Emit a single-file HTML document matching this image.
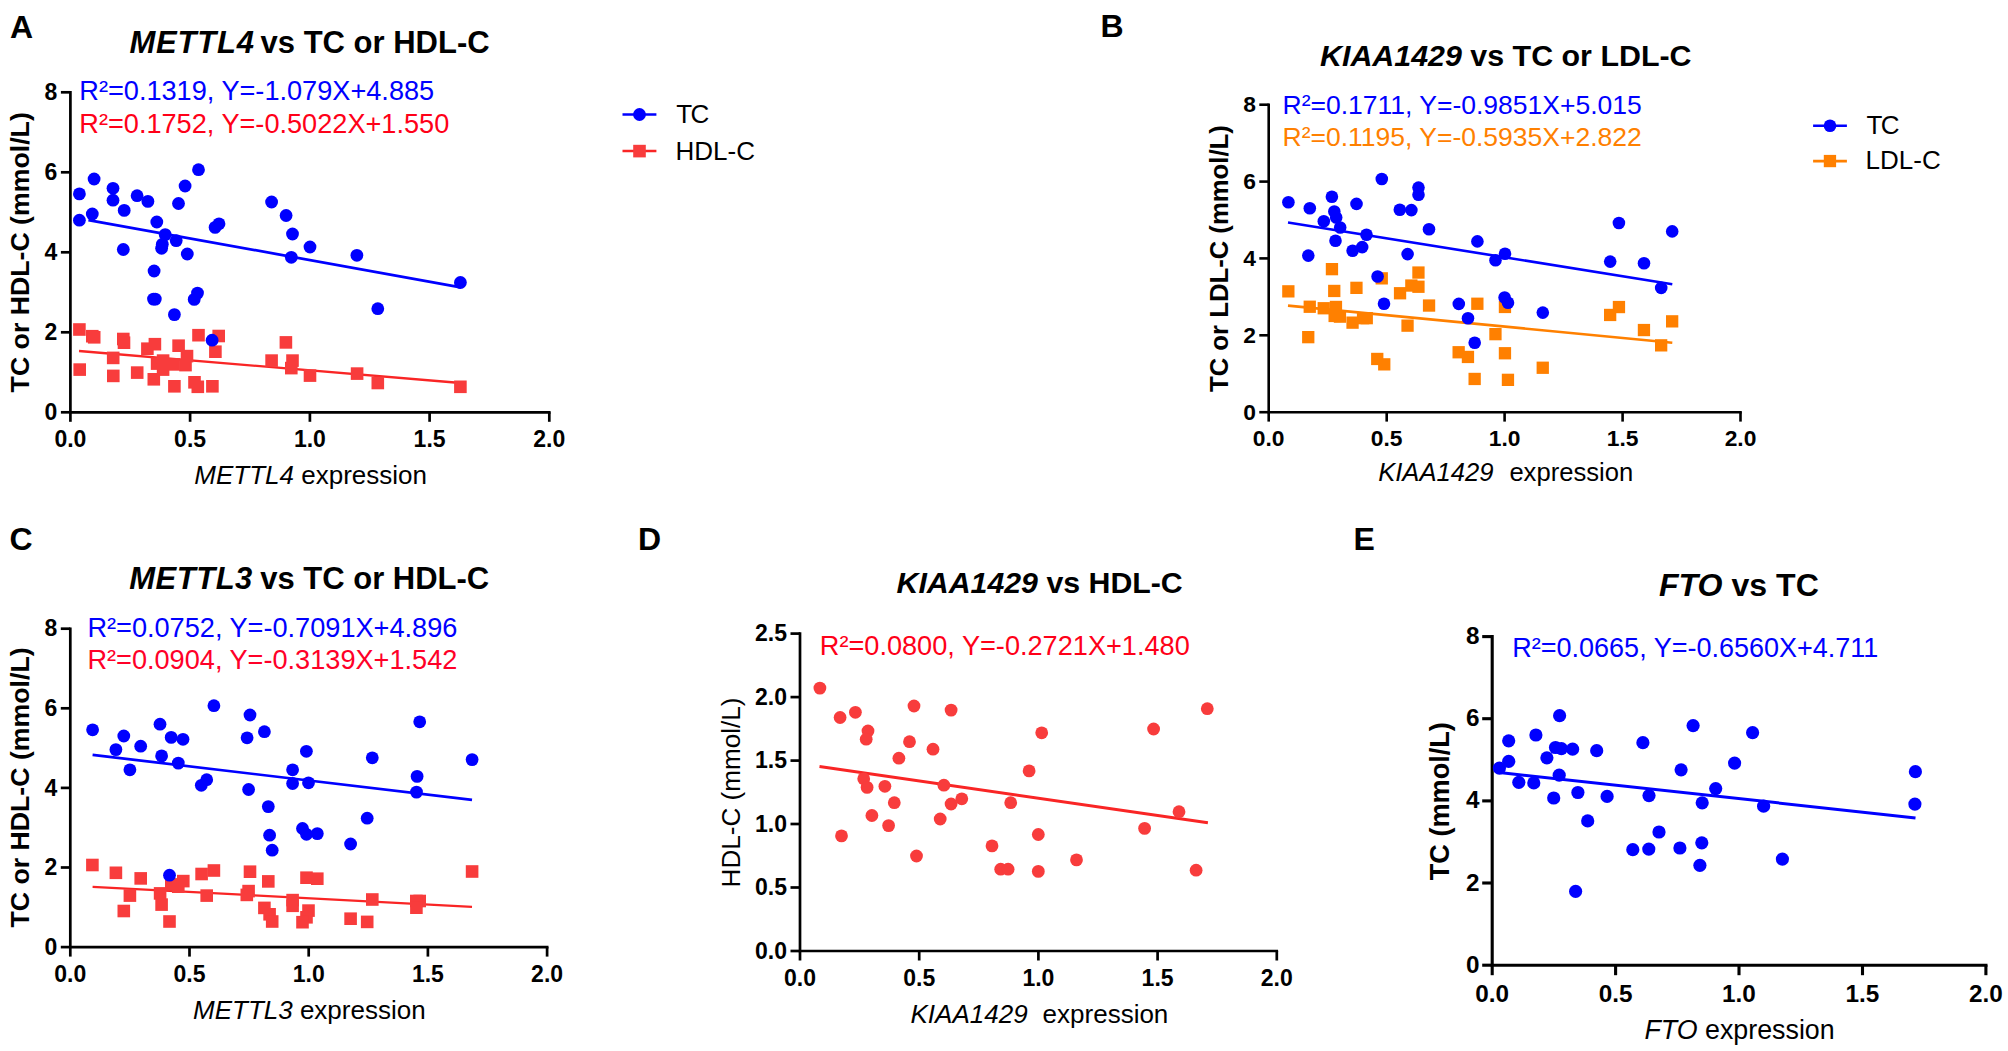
<!DOCTYPE html>
<html><head><meta charset="utf-8"><title>Figure</title>
<style>html,body{margin:0;padding:0;background:#fff}svg{display:block}text{font-family:"Liberation Sans",Arial,sans-serif}</style>
</head><body>
<svg width="2008" height="1051" viewBox="0 0 2008 1051">
<rect width="2008" height="1051" fill="#fff"/>
<text x="10.0" y="37.5" font-size="32" fill="#000" font-weight="bold" font-style="normal" text-anchor="start" >A</text>
<text x="129.5" y="52.8" font-size="31" font-weight="bold"><tspan font-style="italic" letter-spacing="0.8">METTL4</tspan><tspan dx="-2.9"> vs TC or HDL-C</tspan></text>
<path d="M70.4,91.0 V412.3 H550.6" fill="none" stroke="#000" stroke-width="2.7" stroke-linejoin="miter"/>
<line x1="70.4" y1="412.3" x2="70.4" y2="421.8" stroke="#000" stroke-width="2.7" stroke-linecap="butt"/>
<text x="70.4" y="446.9" font-size="23" fill="#000" font-weight="bold" font-style="normal" text-anchor="middle" >0.0</text>
<line x1="190.1" y1="412.3" x2="190.1" y2="421.8" stroke="#000" stroke-width="2.7" stroke-linecap="butt"/>
<text x="190.1" y="446.9" font-size="23" fill="#000" font-weight="bold" font-style="normal" text-anchor="middle" >0.5</text>
<line x1="309.9" y1="412.3" x2="309.9" y2="421.8" stroke="#000" stroke-width="2.7" stroke-linecap="butt"/>
<text x="309.9" y="446.9" font-size="23" fill="#000" font-weight="bold" font-style="normal" text-anchor="middle" >1.0</text>
<line x1="429.6" y1="412.3" x2="429.6" y2="421.8" stroke="#000" stroke-width="2.7" stroke-linecap="butt"/>
<text x="429.6" y="446.9" font-size="23" fill="#000" font-weight="bold" font-style="normal" text-anchor="middle" >1.5</text>
<line x1="549.3" y1="412.3" x2="549.3" y2="421.8" stroke="#000" stroke-width="2.7" stroke-linecap="butt"/>
<text x="549.3" y="446.9" font-size="23" fill="#000" font-weight="bold" font-style="normal" text-anchor="middle" >2.0</text>
<line x1="60.9" y1="412.3" x2="70.4" y2="412.3" stroke="#000" stroke-width="2.7" stroke-linecap="butt"/>
<text x="57.4" y="420.0" font-size="23" fill="#000" font-weight="bold" font-style="normal" text-anchor="end" >0</text>
<line x1="60.9" y1="332.3" x2="70.4" y2="332.3" stroke="#000" stroke-width="2.7" stroke-linecap="butt"/>
<text x="57.4" y="340.0" font-size="23" fill="#000" font-weight="bold" font-style="normal" text-anchor="end" >2</text>
<line x1="60.9" y1="252.3" x2="70.4" y2="252.3" stroke="#000" stroke-width="2.7" stroke-linecap="butt"/>
<text x="57.4" y="260.0" font-size="23" fill="#000" font-weight="bold" font-style="normal" text-anchor="end" >4</text>
<line x1="60.9" y1="172.3" x2="70.4" y2="172.3" stroke="#000" stroke-width="2.7" stroke-linecap="butt"/>
<text x="57.4" y="180.0" font-size="23" fill="#000" font-weight="bold" font-style="normal" text-anchor="end" >6</text>
<line x1="60.9" y1="92.3" x2="70.4" y2="92.3" stroke="#000" stroke-width="2.7" stroke-linecap="butt"/>
<text x="57.4" y="100.0" font-size="23" fill="#000" font-weight="bold" font-style="normal" text-anchor="end" >8</text>
<text x="79.3" y="100.3" font-size="27.15" fill="#0000FF" font-weight="normal" font-style="normal" text-anchor="start" >R²=0.1319, Y=-1.079X+4.885</text>
<text x="79.3" y="133.0" font-size="27.15" fill="#FF0018" font-weight="normal" font-style="normal" text-anchor="start" >R²=0.1752, Y=-0.5022X+1.550</text>
<text transform="translate(29.3,252.3) rotate(-90)" font-size="26.7" font-weight="bold" text-anchor="middle">TC or HDL-C (mmol/L)</text>
<text x="194.3" y="483.5" font-size="26"><tspan font-style="italic">METTL4</tspan> expression</text>
<line x1="79.0" y1="351.0" x2="460.7" y2="383.0" stroke="#F92525" stroke-width="2.3" stroke-linecap="butt"/>
<g fill="#F83C3C"><rect x="73.1" y="323.2" width="12.6" height="12.6"/><rect x="86.0" y="329.9" width="12.6" height="12.6"/><rect x="87.9" y="331.0" width="12.6" height="12.6"/><rect x="117.0" y="332.7" width="12.6" height="12.6"/><rect x="117.7" y="336.4" width="12.6" height="12.6"/><rect x="73.4" y="363.3" width="12.6" height="12.6"/><rect x="106.9" y="351.6" width="12.6" height="12.6"/><rect x="107.0" y="369.6" width="12.6" height="12.6"/><rect x="130.9" y="366.3" width="12.6" height="12.6"/><rect x="141.1" y="342.4" width="12.6" height="12.6"/><rect x="148.6" y="337.9" width="12.6" height="12.6"/><rect x="147.5" y="373.0" width="12.6" height="12.6"/><rect x="172.3" y="339.4" width="12.6" height="12.6"/><rect x="180.7" y="349.8" width="12.6" height="12.6"/><rect x="150.8" y="357.3" width="12.6" height="12.6"/><rect x="156.8" y="354.3" width="12.6" height="12.6"/><rect x="156.8" y="363.3" width="12.6" height="12.6"/><rect x="167.3" y="358.1" width="12.6" height="12.6"/><rect x="179.2" y="358.8" width="12.6" height="12.6"/><rect x="168.1" y="380.0" width="12.6" height="12.6"/><rect x="188.2" y="376.0" width="12.6" height="12.6"/><rect x="191.5" y="380.5" width="12.6" height="12.6"/><rect x="206.1" y="380.0" width="12.6" height="12.6"/><rect x="192.2" y="328.9" width="12.6" height="12.6"/><rect x="212.4" y="329.7" width="12.6" height="12.6"/><rect x="209.1" y="345.4" width="12.6" height="12.6"/><rect x="265.3" y="354.3" width="12.6" height="12.6"/><rect x="279.6" y="336.1" width="12.6" height="12.6"/><rect x="286.2" y="354.3" width="12.6" height="12.6"/><rect x="285.0" y="361.8" width="12.6" height="12.6"/><rect x="303.7" y="369.3" width="12.6" height="12.6"/><rect x="350.8" y="367.3" width="12.6" height="12.6"/><rect x="371.5" y="376.7" width="12.6" height="12.6"/><rect x="454.1" y="380.5" width="12.6" height="12.6"/></g>
<g fill="#0000FF"><circle cx="79.4" cy="193.9" r="6.4"/><circle cx="94.1" cy="179.0" r="6.4"/><circle cx="113.0" cy="188.3" r="6.4"/><circle cx="113.0" cy="200.2" r="6.4"/><circle cx="79.4" cy="220.2" r="6.4"/><circle cx="92.3" cy="214.0" r="6.4"/><circle cx="124.2" cy="210.4" r="6.4"/><circle cx="137.1" cy="195.7" r="6.4"/><circle cx="147.9" cy="201.4" r="6.4"/><circle cx="156.8" cy="222.0" r="6.4"/><circle cx="178.5" cy="203.5" r="6.4"/><circle cx="185.1" cy="186.0" r="6.4"/><circle cx="198.5" cy="169.7" r="6.4"/><circle cx="165.2" cy="234.6" r="6.4"/><circle cx="162.3" cy="244.3" r="6.4"/><circle cx="161.6" cy="248.3" r="6.4"/><circle cx="176.2" cy="240.6" r="6.4"/><circle cx="123.3" cy="249.5" r="6.4"/><circle cx="187.3" cy="254.0" r="6.4"/><circle cx="154.1" cy="271.0" r="6.4"/><circle cx="215.1" cy="227.4" r="6.4"/><circle cx="219.0" cy="223.8" r="6.4"/><circle cx="271.6" cy="202.0" r="6.4"/><circle cx="286.1" cy="215.5" r="6.4"/><circle cx="292.5" cy="234.0" r="6.4"/><circle cx="310.0" cy="247.0" r="6.4"/><circle cx="291.3" cy="257.3" r="6.4"/><circle cx="356.9" cy="255.3" r="6.4"/><circle cx="153.5" cy="299.1" r="6.4"/><circle cx="155.3" cy="299.1" r="6.4"/><circle cx="197.5" cy="293.1" r="6.4"/><circle cx="194.2" cy="299.4" r="6.4"/><circle cx="174.4" cy="314.6" r="6.4"/><circle cx="212.1" cy="340.2" r="6.4"/><circle cx="460.4" cy="282.5" r="6.4"/><circle cx="377.8" cy="308.7" r="6.4"/></g>
<line x1="88.4" y1="220.1" x2="460.7" y2="287.3" stroke="#0000FF" stroke-width="2.7" stroke-linecap="butt"/>
<line x1="622.5" y1="114.5" x2="656.4" y2="114.5" stroke="#0000FF" stroke-width="2.7" stroke-linecap="butt"/>
<g fill="#0000FF"><circle cx="639.5" cy="114.5" r="6.4"/></g>
<text x="676.3" y="123.2" font-size="26" fill="#000" font-weight="normal" font-style="normal" text-anchor="start" >T<tspan dx="-1.6">C</tspan></text>
<line x1="622.5" y1="151.1" x2="656.4" y2="151.1" stroke="#F92525" stroke-width="2.5" stroke-linecap="butt"/>
<g fill="#F83C3C"><rect x="633.2" y="144.8" width="12.6" height="12.6"/></g>
<text x="675.5" y="160.0" font-size="26" fill="#000" font-weight="normal" font-style="normal" text-anchor="start" >HDL-C</text>
<text x="1100.5" y="37.3" font-size="32" fill="#000" font-weight="bold" font-style="normal" text-anchor="start" >B</text>
<text x="1320" y="66.1" font-size="30.4" font-weight="bold"><tspan font-style="italic">KIAA1429</tspan> vs TC or LDL-C</text>
<path d="M1268.7,103.4 V412.2 H1741.8" fill="none" stroke="#000" stroke-width="2.6" stroke-linejoin="miter"/>
<line x1="1268.7" y1="412.2" x2="1268.7" y2="421.6" stroke="#000" stroke-width="2.6" stroke-linecap="butt"/>
<text x="1268.7" y="446.2" font-size="22.8" fill="#000" font-weight="bold" font-style="normal" text-anchor="middle" >0.0</text>
<line x1="1386.7" y1="412.2" x2="1386.7" y2="421.6" stroke="#000" stroke-width="2.6" stroke-linecap="butt"/>
<text x="1386.7" y="446.2" font-size="22.8" fill="#000" font-weight="bold" font-style="normal" text-anchor="middle" >0.5</text>
<line x1="1504.6" y1="412.2" x2="1504.6" y2="421.6" stroke="#000" stroke-width="2.6" stroke-linecap="butt"/>
<text x="1504.6" y="446.2" font-size="22.8" fill="#000" font-weight="bold" font-style="normal" text-anchor="middle" >1.0</text>
<line x1="1622.6" y1="412.2" x2="1622.6" y2="421.6" stroke="#000" stroke-width="2.6" stroke-linecap="butt"/>
<text x="1622.6" y="446.2" font-size="22.8" fill="#000" font-weight="bold" font-style="normal" text-anchor="middle" >1.5</text>
<line x1="1740.5" y1="412.2" x2="1740.5" y2="421.6" stroke="#000" stroke-width="2.6" stroke-linecap="butt"/>
<text x="1740.5" y="446.2" font-size="22.8" fill="#000" font-weight="bold" font-style="normal" text-anchor="middle" >2.0</text>
<line x1="1259.3" y1="412.2" x2="1268.7" y2="412.2" stroke="#000" stroke-width="2.6" stroke-linecap="butt"/>
<text x="1255.9" y="419.9" font-size="22.8" fill="#000" font-weight="bold" font-style="normal" text-anchor="end" >0</text>
<line x1="1259.3" y1="335.3" x2="1268.7" y2="335.3" stroke="#000" stroke-width="2.6" stroke-linecap="butt"/>
<text x="1255.9" y="343.0" font-size="22.8" fill="#000" font-weight="bold" font-style="normal" text-anchor="end" >2</text>
<line x1="1259.3" y1="258.4" x2="1268.7" y2="258.4" stroke="#000" stroke-width="2.6" stroke-linecap="butt"/>
<text x="1255.9" y="266.1" font-size="22.8" fill="#000" font-weight="bold" font-style="normal" text-anchor="end" >4</text>
<line x1="1259.3" y1="181.6" x2="1268.7" y2="181.6" stroke="#000" stroke-width="2.6" stroke-linecap="butt"/>
<text x="1255.9" y="189.2" font-size="22.8" fill="#000" font-weight="bold" font-style="normal" text-anchor="end" >6</text>
<line x1="1259.3" y1="104.7" x2="1268.7" y2="104.7" stroke="#000" stroke-width="2.6" stroke-linecap="butt"/>
<text x="1255.9" y="112.3" font-size="22.8" fill="#000" font-weight="bold" font-style="normal" text-anchor="end" >8</text>
<text x="1282.5" y="113.9" font-size="26.5" fill="#0000FF" font-weight="normal" font-style="normal" text-anchor="start" >R²=0.1711, Y=-0.9851X+5.015</text>
<text x="1282.5" y="145.9" font-size="26.5" fill="#FF8000" font-weight="normal" font-style="normal" text-anchor="start" >R²=0.1195, Y=-0.5935X+2.822</text>
<text transform="translate(1227.5,258.6) rotate(-90)" font-size="25.7" font-weight="bold" text-anchor="middle">TC or LDL-C (mmol/L)</text>
<text x="1378.2" y="481.1" font-size="25.6" font-style="italic">KIAA1429</text>
<text x="1509.4" y="481.1" font-size="25.6" fill="#000" font-weight="normal" font-style="normal" text-anchor="start" >expression</text>
<line x1="1288.0" y1="305.6" x2="1672.3" y2="342.8" stroke="#FF8000" stroke-width="2.6" stroke-linecap="butt"/>
<g fill="#FF8000"><rect x="1282.2" y="285.2" width="12.3" height="12.3"/><rect x="1325.8" y="263.0" width="12.3" height="12.3"/><rect x="1328.1" y="284.8" width="12.3" height="12.3"/><rect x="1350.3" y="281.7" width="12.3" height="12.3"/><rect x="1375.6" y="272.2" width="12.3" height="12.3"/><rect x="1412.3" y="266.4" width="12.3" height="12.3"/><rect x="1405.2" y="279.4" width="12.3" height="12.3"/><rect x="1412.3" y="280.6" width="12.3" height="12.3"/><rect x="1393.9" y="287.1" width="12.3" height="12.3"/><rect x="1422.9" y="299.4" width="12.3" height="12.3"/><rect x="1471.2" y="297.6" width="12.3" height="12.3"/><rect x="1498.8" y="300.8" width="12.3" height="12.3"/><rect x="1303.6" y="300.6" width="12.3" height="12.3"/><rect x="1317.6" y="302.1" width="12.3" height="12.3"/><rect x="1329.8" y="300.8" width="12.3" height="12.3"/><rect x="1328.5" y="309.8" width="12.3" height="12.3"/><rect x="1333.8" y="310.5" width="12.3" height="12.3"/><rect x="1346.4" y="316.5" width="12.3" height="12.3"/><rect x="1356.9" y="312.0" width="12.3" height="12.3"/><rect x="1360.6" y="312.0" width="12.3" height="12.3"/><rect x="1401.4" y="319.5" width="12.3" height="12.3"/><rect x="1302.1" y="331.0" width="12.3" height="12.3"/><rect x="1489.3" y="328.0" width="12.3" height="12.3"/><rect x="1371.1" y="352.8" width="12.3" height="12.3"/><rect x="1378.1" y="358.2" width="12.3" height="12.3"/><rect x="1452.5" y="346.1" width="12.3" height="12.3"/><rect x="1461.8" y="350.8" width="12.3" height="12.3"/><rect x="1498.8" y="347.1" width="12.3" height="12.3"/><rect x="1468.5" y="372.8" width="12.3" height="12.3"/><rect x="1501.8" y="373.7" width="12.3" height="12.3"/><rect x="1536.6" y="361.6" width="12.3" height="12.3"/><rect x="1612.8" y="300.9" width="12.3" height="12.3"/><rect x="1604.0" y="308.8" width="12.3" height="12.3"/><rect x="1637.8" y="323.9" width="12.3" height="12.3"/><rect x="1666.0" y="315.2" width="12.3" height="12.3"/><rect x="1655.0" y="339.2" width="12.3" height="12.3"/></g>
<g fill="#0000FF"><circle cx="1288.4" cy="202.3" r="6.3"/><circle cx="1309.8" cy="208.3" r="6.3"/><circle cx="1331.9" cy="196.8" r="6.3"/><circle cx="1334.3" cy="211.5" r="6.3"/><circle cx="1336.2" cy="217.5" r="6.3"/><circle cx="1323.8" cy="221.3" r="6.3"/><circle cx="1340.2" cy="227.5" r="6.3"/><circle cx="1356.5" cy="203.9" r="6.3"/><circle cx="1381.8" cy="179.0" r="6.3"/><circle cx="1418.5" cy="187.6" r="6.3"/><circle cx="1418.5" cy="194.8" r="6.3"/><circle cx="1399.8" cy="209.8" r="6.3"/><circle cx="1411.4" cy="210.1" r="6.3"/><circle cx="1429.0" cy="229.3" r="6.3"/><circle cx="1366.5" cy="234.7" r="6.3"/><circle cx="1335.5" cy="240.8" r="6.3"/><circle cx="1362.2" cy="247.1" r="6.3"/><circle cx="1352.6" cy="250.7" r="6.3"/><circle cx="1308.3" cy="255.6" r="6.3"/><circle cx="1407.6" cy="254.1" r="6.3"/><circle cx="1477.4" cy="241.4" r="6.3"/><circle cx="1505.0" cy="253.7" r="6.3"/><circle cx="1495.5" cy="260.3" r="6.3"/><circle cx="1377.6" cy="276.5" r="6.3"/><circle cx="1384.0" cy="303.8" r="6.3"/><circle cx="1458.8" cy="303.9" r="6.3"/><circle cx="1504.6" cy="297.5" r="6.3"/><circle cx="1508.0" cy="302.7" r="6.3"/><circle cx="1468.0" cy="318.3" r="6.3"/><circle cx="1542.8" cy="312.6" r="6.3"/><circle cx="1474.7" cy="342.8" r="6.3"/><circle cx="1618.9" cy="223.0" r="6.3"/><circle cx="1672.2" cy="231.4" r="6.3"/><circle cx="1610.2" cy="261.6" r="6.3"/><circle cx="1644.0" cy="263.2" r="6.3"/><circle cx="1661.2" cy="287.9" r="6.3"/></g>
<line x1="1288.0" y1="222.5" x2="1672.3" y2="284.2" stroke="#0000FF" stroke-width="2.6" stroke-linecap="butt"/>
<line x1="1813.1" y1="125.7" x2="1846.9" y2="125.7" stroke="#0000FF" stroke-width="2.6" stroke-linecap="butt"/>
<g fill="#0000FF"><circle cx="1830.0" cy="125.7" r="6.3"/></g>
<text x="1866.5" y="134.3" font-size="26" fill="#000" font-weight="normal" font-style="normal" text-anchor="start" >T<tspan dx="-1.6">C</tspan></text>
<line x1="1813.1" y1="161.1" x2="1846.9" y2="161.1" stroke="#FF8000" stroke-width="2.6" stroke-linecap="butt"/>
<g fill="#FF8000"><rect x="1823.8" y="154.9" width="12.3" height="12.3"/></g>
<text x="1865.6" y="168.9" font-size="26" fill="#000" font-weight="normal" font-style="normal" text-anchor="start" >LDL-C</text>
<text x="9.5" y="549.8" font-size="32" fill="#000" font-weight="bold" font-style="normal" text-anchor="start" >C</text>
<text x="129.3" y="589" font-size="31" font-weight="bold"><tspan font-style="italic" letter-spacing="0.5">METTL3</tspan><tspan dx="-1.3"> vs TC or HDL-C</tspan></text>
<path d="M70.3,627.4 V947.1 H548.5" fill="none" stroke="#000" stroke-width="2.7" stroke-linejoin="miter"/>
<line x1="70.3" y1="947.1" x2="70.3" y2="956.6" stroke="#000" stroke-width="2.7" stroke-linecap="butt"/>
<text x="70.3" y="981.7" font-size="23" fill="#000" font-weight="bold" font-style="normal" text-anchor="middle" >0.0</text>
<line x1="189.5" y1="947.1" x2="189.5" y2="956.6" stroke="#000" stroke-width="2.7" stroke-linecap="butt"/>
<text x="189.5" y="981.7" font-size="23" fill="#000" font-weight="bold" font-style="normal" text-anchor="middle" >0.5</text>
<line x1="308.7" y1="947.1" x2="308.7" y2="956.6" stroke="#000" stroke-width="2.7" stroke-linecap="butt"/>
<text x="308.7" y="981.7" font-size="23" fill="#000" font-weight="bold" font-style="normal" text-anchor="middle" >1.0</text>
<line x1="427.9" y1="947.1" x2="427.9" y2="956.6" stroke="#000" stroke-width="2.7" stroke-linecap="butt"/>
<text x="427.9" y="981.7" font-size="23" fill="#000" font-weight="bold" font-style="normal" text-anchor="middle" >1.5</text>
<line x1="547.1" y1="947.1" x2="547.1" y2="956.6" stroke="#000" stroke-width="2.7" stroke-linecap="butt"/>
<text x="547.1" y="981.7" font-size="23" fill="#000" font-weight="bold" font-style="normal" text-anchor="middle" >2.0</text>
<line x1="60.8" y1="947.1" x2="70.3" y2="947.1" stroke="#000" stroke-width="2.7" stroke-linecap="butt"/>
<text x="57.3" y="954.8" font-size="23" fill="#000" font-weight="bold" font-style="normal" text-anchor="end" >0</text>
<line x1="60.8" y1="867.5" x2="70.3" y2="867.5" stroke="#000" stroke-width="2.7" stroke-linecap="butt"/>
<text x="57.3" y="875.2" font-size="23" fill="#000" font-weight="bold" font-style="normal" text-anchor="end" >2</text>
<line x1="60.8" y1="787.9" x2="70.3" y2="787.9" stroke="#000" stroke-width="2.7" stroke-linecap="butt"/>
<text x="57.3" y="795.6" font-size="23" fill="#000" font-weight="bold" font-style="normal" text-anchor="end" >4</text>
<line x1="60.8" y1="708.3" x2="70.3" y2="708.3" stroke="#000" stroke-width="2.7" stroke-linecap="butt"/>
<text x="57.3" y="716.0" font-size="23" fill="#000" font-weight="bold" font-style="normal" text-anchor="end" >6</text>
<line x1="60.8" y1="628.7" x2="70.3" y2="628.7" stroke="#000" stroke-width="2.7" stroke-linecap="butt"/>
<text x="57.3" y="636.4" font-size="23" fill="#000" font-weight="bold" font-style="normal" text-anchor="end" >8</text>
<text x="87.4" y="636.5" font-size="27.15" fill="#0000FF" font-weight="normal" font-style="normal" text-anchor="start" >R²=0.0752, Y=-0.7091X+4.896</text>
<text x="87.4" y="669.0" font-size="27.15" fill="#FF0028" font-weight="normal" font-style="normal" text-anchor="start" >R²=0.0904, Y=-0.3139X+1.542</text>
<text transform="translate(29.3,787.5) rotate(-90)" font-size="26.7" font-weight="bold" text-anchor="middle">TC or HDL-C (mmol/L)</text>
<text x="193" y="1018.5" font-size="26"><tspan font-style="italic">METTL3</tspan> expression</text>
<line x1="92.6" y1="886.9" x2="472.0" y2="906.8" stroke="#F92525" stroke-width="2.3" stroke-linecap="butt"/>
<g fill="#F83C3C"><rect x="86.1" y="858.7" width="12.6" height="12.6"/><rect x="109.6" y="866.5" width="12.6" height="12.6"/><rect x="134.4" y="872.1" width="12.6" height="12.6"/><rect x="123.6" y="889.3" width="12.6" height="12.6"/><rect x="117.5" y="904.7" width="12.6" height="12.6"/><rect x="153.8" y="887.1" width="12.6" height="12.6"/><rect x="155.3" y="898.3" width="12.6" height="12.6"/><rect x="163.2" y="915.2" width="12.6" height="12.6"/><rect x="165.0" y="878.1" width="12.6" height="12.6"/><rect x="172.0" y="880.4" width="12.6" height="12.6"/><rect x="177.0" y="874.8" width="12.6" height="12.6"/><rect x="195.3" y="867.7" width="12.6" height="12.6"/><rect x="207.6" y="864.2" width="12.6" height="12.6"/><rect x="200.4" y="889.3" width="12.6" height="12.6"/><rect x="243.7" y="865.4" width="12.6" height="12.6"/><rect x="242.3" y="884.8" width="12.6" height="12.6"/><rect x="240.5" y="888.6" width="12.6" height="12.6"/><rect x="262.0" y="875.1" width="12.6" height="12.6"/><rect x="258.1" y="901.6" width="12.6" height="12.6"/><rect x="263.3" y="908.0" width="12.6" height="12.6"/><rect x="265.9" y="915.2" width="12.6" height="12.6"/><rect x="286.3" y="893.8" width="12.6" height="12.6"/><rect x="286.3" y="899.5" width="12.6" height="12.6"/><rect x="300.2" y="871.4" width="12.6" height="12.6"/><rect x="311.0" y="872.4" width="12.6" height="12.6"/><rect x="302.2" y="904.3" width="12.6" height="12.6"/><rect x="300.2" y="911.0" width="12.6" height="12.6"/><rect x="296.2" y="915.9" width="12.6" height="12.6"/><rect x="344.3" y="912.4" width="12.6" height="12.6"/><rect x="465.8" y="865.2" width="12.6" height="12.6"/><rect x="366.0" y="893.2" width="12.6" height="12.6"/><rect x="413.4" y="894.7" width="12.6" height="12.6"/><rect x="410.0" y="894.7" width="12.6" height="12.6"/><rect x="410.1" y="901.4" width="12.6" height="12.6"/><rect x="360.9" y="915.6" width="12.6" height="12.6"/></g>
<g fill="#0000FF"><circle cx="92.6" cy="729.8" r="6.4"/><circle cx="123.8" cy="736.0" r="6.4"/><circle cx="115.9" cy="749.6" r="6.4"/><circle cx="140.7" cy="746.2" r="6.4"/><circle cx="129.9" cy="769.8" r="6.4"/><circle cx="160.0" cy="724.2" r="6.4"/><circle cx="171.2" cy="737.4" r="6.4"/><circle cx="183.0" cy="739.3" r="6.4"/><circle cx="161.6" cy="755.9" r="6.4"/><circle cx="178.3" cy="763.1" r="6.4"/><circle cx="213.9" cy="705.7" r="6.4"/><circle cx="250.0" cy="715.0" r="6.4"/><circle cx="264.4" cy="731.7" r="6.4"/><circle cx="247.1" cy="737.8" r="6.4"/><circle cx="206.7" cy="779.7" r="6.4"/><circle cx="201.3" cy="785.3" r="6.4"/><circle cx="248.6" cy="789.5" r="6.4"/><circle cx="306.4" cy="751.3" r="6.4"/><circle cx="292.6" cy="769.8" r="6.4"/><circle cx="292.6" cy="783.5" r="6.4"/><circle cx="308.5" cy="782.8" r="6.4"/><circle cx="268.3" cy="806.6" r="6.4"/><circle cx="269.6" cy="835.2" r="6.4"/><circle cx="272.2" cy="850.2" r="6.4"/><circle cx="302.5" cy="828.5" r="6.4"/><circle cx="306.5" cy="834.3" r="6.4"/><circle cx="317.3" cy="833.6" r="6.4"/><circle cx="350.6" cy="844.0" r="6.4"/><circle cx="169.5" cy="875.2" r="6.4"/><circle cx="419.7" cy="721.8" r="6.4"/><circle cx="372.3" cy="757.8" r="6.4"/><circle cx="472.1" cy="759.6" r="6.4"/><circle cx="417.1" cy="776.4" r="6.4"/><circle cx="416.5" cy="792.1" r="6.4"/><circle cx="367.2" cy="818.2" r="6.4"/></g>
<line x1="92.6" y1="754.9" x2="472.0" y2="799.8" stroke="#0000FF" stroke-width="2.7" stroke-linecap="butt"/>
<text x="638.0" y="549.8" font-size="32" fill="#000" font-weight="bold" font-style="normal" text-anchor="start" >D</text>
<text x="896.5" y="593.1" font-size="30.3" font-weight="bold"><tspan font-style="italic">KIAA1429</tspan> vs HDL-C</text>
<path d="M800.0,632.3 V951.0 H1278.1" fill="none" stroke="#000" stroke-width="2.7" stroke-linejoin="miter"/>
<line x1="800.0" y1="951.0" x2="800.0" y2="960.5" stroke="#000" stroke-width="2.7" stroke-linecap="butt"/>
<text x="800.0" y="985.6" font-size="23" fill="#000" font-weight="bold" font-style="normal" text-anchor="middle" >0.0</text>
<line x1="919.2" y1="951.0" x2="919.2" y2="960.5" stroke="#000" stroke-width="2.7" stroke-linecap="butt"/>
<text x="919.2" y="985.6" font-size="23" fill="#000" font-weight="bold" font-style="normal" text-anchor="middle" >0.5</text>
<line x1="1038.4" y1="951.0" x2="1038.4" y2="960.5" stroke="#000" stroke-width="2.7" stroke-linecap="butt"/>
<text x="1038.4" y="985.6" font-size="23" fill="#000" font-weight="bold" font-style="normal" text-anchor="middle" >1.0</text>
<line x1="1157.6" y1="951.0" x2="1157.6" y2="960.5" stroke="#000" stroke-width="2.7" stroke-linecap="butt"/>
<text x="1157.6" y="985.6" font-size="23" fill="#000" font-weight="bold" font-style="normal" text-anchor="middle" >1.5</text>
<line x1="1276.8" y1="951.0" x2="1276.8" y2="960.5" stroke="#000" stroke-width="2.7" stroke-linecap="butt"/>
<text x="1276.8" y="985.6" font-size="23" fill="#000" font-weight="bold" font-style="normal" text-anchor="middle" >2.0</text>
<line x1="790.5" y1="951.0" x2="800.0" y2="951.0" stroke="#000" stroke-width="2.7" stroke-linecap="butt"/>
<text x="787.0" y="958.7" font-size="23" fill="#000" font-weight="bold" font-style="normal" text-anchor="end" >0.0</text>
<line x1="790.5" y1="887.5" x2="800.0" y2="887.5" stroke="#000" stroke-width="2.7" stroke-linecap="butt"/>
<text x="787.0" y="895.3" font-size="23" fill="#000" font-weight="bold" font-style="normal" text-anchor="end" >0.5</text>
<line x1="790.5" y1="824.0" x2="800.0" y2="824.0" stroke="#000" stroke-width="2.7" stroke-linecap="butt"/>
<text x="787.0" y="831.8" font-size="23" fill="#000" font-weight="bold" font-style="normal" text-anchor="end" >1.0</text>
<line x1="790.5" y1="760.6" x2="800.0" y2="760.6" stroke="#000" stroke-width="2.7" stroke-linecap="butt"/>
<text x="787.0" y="768.3" font-size="23" fill="#000" font-weight="bold" font-style="normal" text-anchor="end" >1.5</text>
<line x1="790.5" y1="697.1" x2="800.0" y2="697.1" stroke="#000" stroke-width="2.7" stroke-linecap="butt"/>
<text x="787.0" y="704.8" font-size="23" fill="#000" font-weight="bold" font-style="normal" text-anchor="end" >2.0</text>
<line x1="790.5" y1="633.6" x2="800.0" y2="633.6" stroke="#000" stroke-width="2.7" stroke-linecap="butt"/>
<text x="787.0" y="641.4" font-size="23" fill="#000" font-weight="bold" font-style="normal" text-anchor="end" >2.5</text>
<text x="819.8" y="654.6" font-size="27.15" fill="#FF0018" font-weight="normal" font-style="normal" text-anchor="start" >R²=0.0800, Y=-0.2721X+1.480</text>
<text transform="translate(740.3,792.5) rotate(-90)" font-size="26.1" text-anchor="middle">HDL-C (mmol/L)</text>
<text x="910.5" y="1022.6" font-size="26" font-style="italic">KIAA1429</text>
<text x="1042.6" y="1022.6" font-size="26" fill="#000" font-weight="normal" font-style="normal" text-anchor="start" >expression</text>
<line x1="819.5" y1="766.5" x2="1207.9" y2="822.8" stroke="#F92525" stroke-width="3.0" stroke-linecap="butt"/>
<g fill="#F83C3C"><circle cx="819.9" cy="688.1" r="6.4"/><circle cx="840.1" cy="717.5" r="6.4"/><circle cx="855.4" cy="712.3" r="6.4"/><circle cx="868.0" cy="731.0" r="6.4"/><circle cx="866.2" cy="739.2" r="6.4"/><circle cx="914.0" cy="706.0" r="6.4"/><circle cx="951.1" cy="710.1" r="6.4"/><circle cx="909.5" cy="741.7" r="6.4"/><circle cx="933.0" cy="749.2" r="6.4"/><circle cx="898.9" cy="758.2" r="6.4"/><circle cx="1041.7" cy="732.8" r="6.4"/><circle cx="1029.1" cy="770.9" r="6.4"/><circle cx="863.7" cy="778.8" r="6.4"/><circle cx="867.1" cy="787.4" r="6.4"/><circle cx="884.9" cy="786.3" r="6.4"/><circle cx="943.9" cy="785.2" r="6.4"/><circle cx="894.3" cy="802.7" r="6.4"/><circle cx="961.8" cy="798.8" r="6.4"/><circle cx="951.1" cy="804.0" r="6.4"/><circle cx="1010.7" cy="802.7" r="6.4"/><circle cx="871.9" cy="815.5" r="6.4"/><circle cx="940.2" cy="819.0" r="6.4"/><circle cx="888.6" cy="825.6" r="6.4"/><circle cx="841.5" cy="835.9" r="6.4"/><circle cx="916.5" cy="856.0" r="6.4"/><circle cx="992.0" cy="845.9" r="6.4"/><circle cx="1038.3" cy="834.5" r="6.4"/><circle cx="1000.7" cy="869.2" r="6.4"/><circle cx="1008.1" cy="869.2" r="6.4"/><circle cx="1038.3" cy="871.4" r="6.4"/><circle cx="1076.5" cy="859.9" r="6.4"/><circle cx="1153.6" cy="729.0" r="6.4"/><circle cx="1207.3" cy="708.7" r="6.4"/><circle cx="1179.0" cy="811.7" r="6.4"/><circle cx="1144.6" cy="828.4" r="6.4"/><circle cx="1196.1" cy="870.2" r="6.4"/></g>
<text x="1353.5" y="549.8" font-size="32" fill="#000" font-weight="bold" font-style="normal" text-anchor="start" >E</text>
<text x="1659" y="595.8" font-size="32.1" font-weight="bold"><tspan font-style="italic">FTO</tspan> vs TC</text>
<path d="M1492.2,635.0 V965.2 H1987.5" fill="none" stroke="#000" stroke-width="3.1" stroke-linejoin="miter"/>
<line x1="1492.2" y1="965.2" x2="1492.2" y2="975.2" stroke="#000" stroke-width="3.1" stroke-linecap="butt"/>
<text x="1492.2" y="1001.5" font-size="24.3" fill="#000" font-weight="bold" font-style="normal" text-anchor="middle" >0.0</text>
<line x1="1615.6" y1="965.2" x2="1615.6" y2="975.2" stroke="#000" stroke-width="3.1" stroke-linecap="butt"/>
<text x="1615.6" y="1001.5" font-size="24.3" fill="#000" font-weight="bold" font-style="normal" text-anchor="middle" >0.5</text>
<line x1="1739.0" y1="965.2" x2="1739.0" y2="975.2" stroke="#000" stroke-width="3.1" stroke-linecap="butt"/>
<text x="1739.0" y="1001.5" font-size="24.3" fill="#000" font-weight="bold" font-style="normal" text-anchor="middle" >1.0</text>
<line x1="1862.5" y1="965.2" x2="1862.5" y2="975.2" stroke="#000" stroke-width="3.1" stroke-linecap="butt"/>
<text x="1862.5" y="1001.5" font-size="24.3" fill="#000" font-weight="bold" font-style="normal" text-anchor="middle" >1.5</text>
<line x1="1985.9" y1="965.2" x2="1985.9" y2="975.2" stroke="#000" stroke-width="3.1" stroke-linecap="butt"/>
<text x="1985.9" y="1001.5" font-size="24.3" fill="#000" font-weight="bold" font-style="normal" text-anchor="middle" >2.0</text>
<line x1="1482.2" y1="965.2" x2="1492.2" y2="965.2" stroke="#000" stroke-width="3.1" stroke-linecap="butt"/>
<text x="1479.4" y="972.7" font-size="24.3" fill="#000" font-weight="bold" font-style="normal" text-anchor="end" >0</text>
<line x1="1482.2" y1="883.0" x2="1492.2" y2="883.0" stroke="#000" stroke-width="3.1" stroke-linecap="butt"/>
<text x="1479.4" y="890.5" font-size="24.3" fill="#000" font-weight="bold" font-style="normal" text-anchor="end" >2</text>
<line x1="1482.2" y1="800.9" x2="1492.2" y2="800.9" stroke="#000" stroke-width="3.1" stroke-linecap="butt"/>
<text x="1479.4" y="808.4" font-size="24.3" fill="#000" font-weight="bold" font-style="normal" text-anchor="end" >4</text>
<line x1="1482.2" y1="718.7" x2="1492.2" y2="718.7" stroke="#000" stroke-width="3.1" stroke-linecap="butt"/>
<text x="1479.4" y="726.2" font-size="24.3" fill="#000" font-weight="bold" font-style="normal" text-anchor="end" >6</text>
<line x1="1482.2" y1="636.6" x2="1492.2" y2="636.6" stroke="#000" stroke-width="3.1" stroke-linecap="butt"/>
<text x="1479.4" y="644.1" font-size="24.3" fill="#000" font-weight="bold" font-style="normal" text-anchor="end" >8</text>
<text x="1512.3" y="656.8" font-size="27" fill="#0000FF" font-weight="normal" font-style="normal" text-anchor="start" >R²=0.0665, Y=-0.6560X+4.711</text>
<text transform="translate(1448.7,801.2) rotate(-90)" font-size="27.1" font-weight="bold" text-anchor="middle">TC (mmol/L)</text>
<text x="1644.5" y="1039.2" font-size="26.8"><tspan font-style="italic">FTO</tspan> expression</text>
<g fill="#0000FF"><circle cx="1499.4" cy="768.1" r="6.6"/><circle cx="1508.7" cy="740.8" r="6.6"/><circle cx="1508.7" cy="761.3" r="6.6"/><circle cx="1518.8" cy="782.3" r="6.6"/><circle cx="1533.8" cy="782.9" r="6.6"/><circle cx="1535.9" cy="735.0" r="6.6"/><circle cx="1546.9" cy="757.8" r="6.6"/><circle cx="1555.5" cy="747.5" r="6.6"/><circle cx="1561.4" cy="748.6" r="6.6"/><circle cx="1559.6" cy="715.7" r="6.6"/><circle cx="1572.6" cy="749.2" r="6.6"/><circle cx="1559.2" cy="775.2" r="6.6"/><circle cx="1553.7" cy="798.0" r="6.6"/><circle cx="1577.9" cy="792.5" r="6.6"/><circle cx="1596.7" cy="750.7" r="6.6"/><circle cx="1607.1" cy="796.4" r="6.6"/><circle cx="1587.7" cy="820.9" r="6.6"/><circle cx="1642.9" cy="742.7" r="6.6"/><circle cx="1649.0" cy="795.6" r="6.6"/><circle cx="1681.1" cy="769.8" r="6.6"/><circle cx="1693.1" cy="725.6" r="6.6"/><circle cx="1715.7" cy="788.6" r="6.6"/><circle cx="1702.2" cy="802.8" r="6.6"/><circle cx="1734.6" cy="763.1" r="6.6"/><circle cx="1752.6" cy="732.7" r="6.6"/><circle cx="1763.6" cy="806.2" r="6.6"/><circle cx="1659.0" cy="832.0" r="6.6"/><circle cx="1701.8" cy="842.8" r="6.6"/><circle cx="1632.8" cy="849.7" r="6.6"/><circle cx="1648.8" cy="849.1" r="6.6"/><circle cx="1679.9" cy="848.0" r="6.6"/><circle cx="1699.9" cy="865.3" r="6.6"/><circle cx="1575.6" cy="891.3" r="6.6"/><circle cx="1782.4" cy="859.1" r="6.6"/><circle cx="1915.4" cy="771.7" r="6.6"/><circle cx="1914.9" cy="804.1" r="6.6"/></g>
<line x1="1499.4" y1="772.5" x2="1915.5" y2="817.9" stroke="#0000FF" stroke-width="3" stroke-linecap="butt"/>
</svg>
</body></html>
